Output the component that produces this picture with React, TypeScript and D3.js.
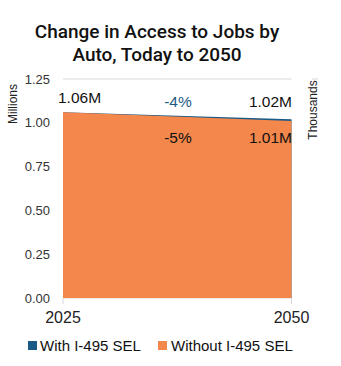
import React from "react";
import * as d3 from "d3";

const years = [2025, 2050];
const withSEL = [1.06, 1.02];
const withoutSEL = [1.06, 1.01];
const yTicks = [0, 0.25, 0.5, 0.75, 1.0, 1.25];
const seriesNames = ["With I-495 SEL", "Without I-495 SEL"];
const startLabel = "1.06M";
const endLabels = ["1.02M", "1.01M"];
const pctLabels = ["-4%", "-5%"];

const BLUE = "#1a5a86";
const ORANGE = "#f4874b";
const FONT = "'Liberation Sans', Arial, sans-serif";

export default function App() {
  const W = 341, H = 366;
  const left = 63, right = 291.5, top = 79, bottom = 298;
  const x = d3.scaleLinear().domain([2025, 2050]).range([left, right]);
  const y = d3.scaleLinear().domain([0, 1.25]).range([bottom, top]);
  const area = d3.area<number>().x((_, i) => x(years[i])).y0(y(0)).y1((d) => y(d));

  return (
    <svg width={W} height={H} style={{ position: "absolute", left: 0, top: 0, background: "#fff" }} fontFamily={FONT}>
      <text x={157} y={37.5} textAnchor="middle" fontSize={19} fontFamily="Roboto, sans-serif" fontWeight={500} fill="#111">
        Change in Access to Jobs by
      </text>
      <text x={157} y={61} textAnchor="middle" fontSize={19} fontFamily="Roboto, sans-serif" fontWeight={500} fill="#111">
        Auto, Today to 2050
      </text>

      {yTicks.map((t) => (
        <line key={"g" + t} x1={left} x2={right} y1={y(t)} y2={y(t)} stroke="#d9d9d9" strokeWidth={1} />
      ))}
      {years.map((yr) => (
        <line key={"v" + yr} x1={x(yr)} x2={x(yr)} y1={bottom} y2={bottom + 6} stroke="#d9d9d9" strokeWidth={1} />
      ))}
      <line x1={312} x2={318} y1={y(1.25)} y2={y(1.25)} stroke="#d9d9d9" />

      <path d={area(withSEL) || ""} fill={BLUE} />
      <path d={area(withoutSEL) || ""} fill={ORANGE} />

      {yTicks.map((t) => (
        <text key={"t" + t} x={50} y={y(t) + 4.5} textAnchor="end" fontSize={13} fill="#333">
          {d3.format(".2f")(t)}
        </text>
      ))}
      {years.map((yr) => (
        <text key={"x" + yr} x={x(yr)} y={323} textAnchor="middle" fontSize={16} fill="#222">
          {yr}
        </text>
      ))}

      <text transform={`translate(17,104) rotate(-90)`} textAnchor="middle" fontSize={12} fill="#222">
        Millions
      </text>
      <text transform={`translate(317,110) rotate(-90)`} textAnchor="middle" fontSize={12} fill="#222">
        Thousands
      </text>

      <text x={58} y={103} fontSize={15.5} fill="#111">{startLabel}</text>
      <text x={292} y={107} textAnchor="end" fontSize={15.5} fill="#111">{endLabels[0]}</text>
      <text x={292} y={143} textAnchor="end" fontSize={15.5} fill="#111">{endLabels[1]}</text>
      <text x={178} y={107} textAnchor="middle" fontSize={15.5} fill={BLUE}>{pctLabels[0]}</text>
      <text x={178} y={143} textAnchor="middle" fontSize={15.5} fill="#111">{pctLabels[1]}</text>

      <rect x={28} y={341} width={9} height={9} fill={BLUE} />
      <text x={40} y={351} fontSize={15} fill="#111">{seriesNames[0]}</text>
      <rect x={158} y={341} width={9} height={9} fill={ORANGE} />
      <text x={171} y={351} fontSize={15} fill="#111">{seriesNames[1]}</text>
    </svg>
  );
}
